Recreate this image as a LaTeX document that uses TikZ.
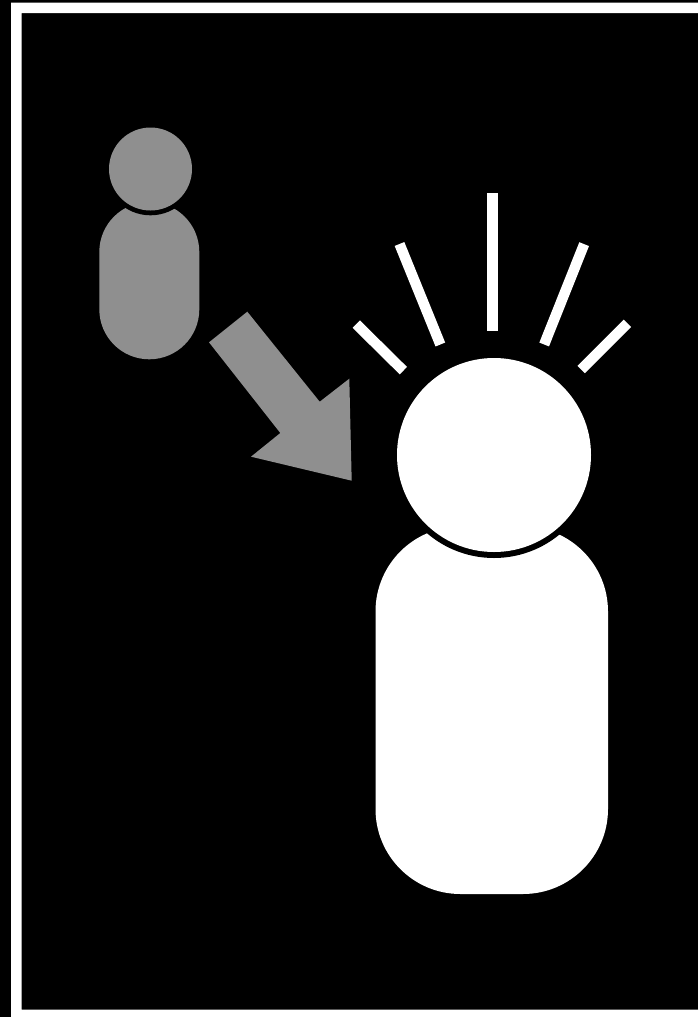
\documentclass[tikz,border=0pt]{standalone}
\definecolor{figgray}{HTML}{8F8F8F}
\begin{document}
\begin{tikzpicture}[x=1pt,y=-1pt,
  bright/.style={fill=white,draw=none},
  dim/.style={fill=figgray,draw=none},
  gap/.style={fill=black,draw=none},
  ray/.style={draw=white,line width=10.4pt}]
\useasboundingbox (0,0) rectangle (698,1017);
\fill[black] (0,0) rectangle (698,1017);
\fill[white,even odd rule] (11,2.5) rectangle (698,1017) (21.5,13) rectangle (698,1009.5);
% small figure
\path[dim,rounded corners=50pt] (99.3,202) rectangle (199.3,359.3);
\fill[gap] (150.5,169) circle[radius=46.3];
\fill[dim] (150.5,169) circle[radius=41.5];
% arrow
\path[dim] (247.3,311.7) -- (209,342.3) -- (280.3,433) -- (251,456.7) -- (351.7,480.7) -- (349.3,378.7) -- (319.7,401.7) -- cycle;
% large figure
\path[bright,rounded corners=85pt] (375.5,526.5) rectangle (608,894);
\fill[gap] (494,455) circle[radius=103];
\fill[bright] (494,455) circle[radius=97];
% rays
\path[bright] (486.5,192.5) rectangle (497.5,331);
\draw[ray] (399.5,244) -- (440.35,344.5);
\draw[ray] (584.15,244.15) -- (544.15,344.5);
\draw[ray] (356.3,324.15) -- (403.35,370.65);
\draw[ray] (627.35,323.35) -- (581.15,369.5);
\end{tikzpicture}
\end{document}
